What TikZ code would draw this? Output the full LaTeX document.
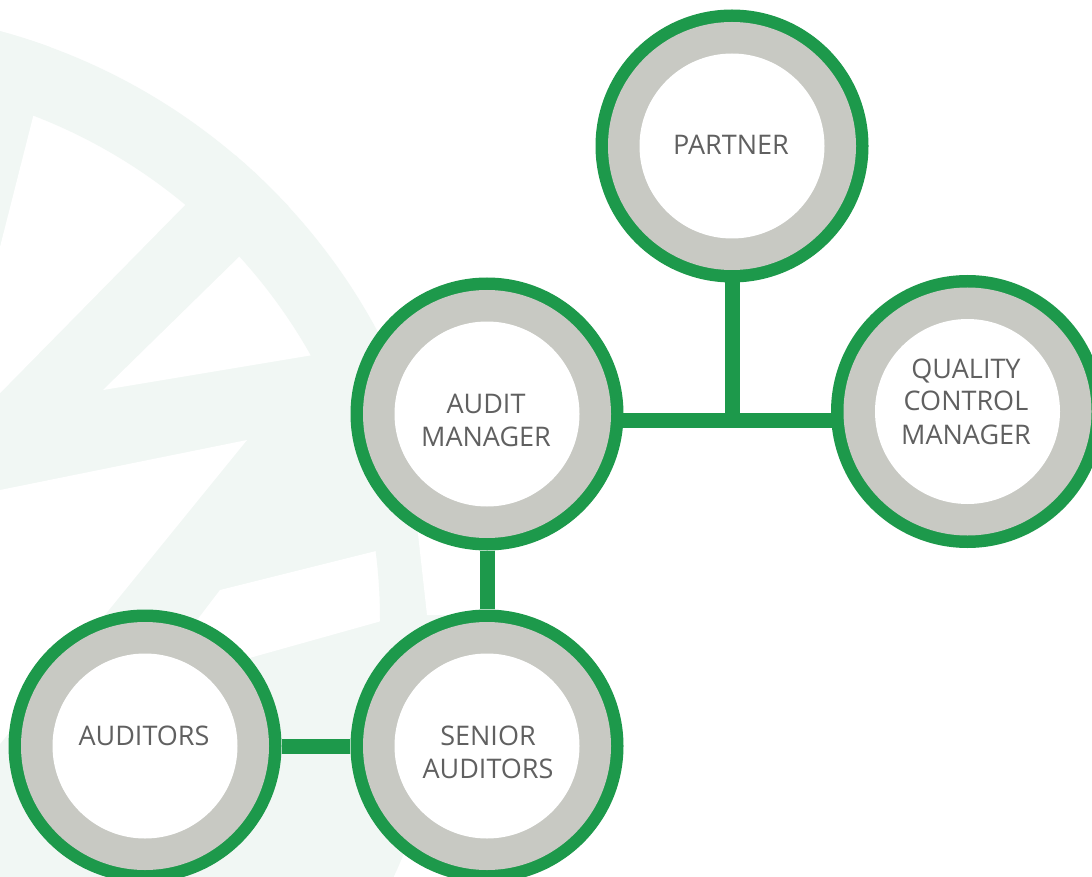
\documentclass[tikz,border=0pt]{standalone}
\usepackage{fontspec}
\setmainfont{Open Sans}
\definecolor{cgreen}{HTML}{1D994B}
\definecolor{cgray}{HTML}{C8C9C3}
\definecolor{ctext}{HTML}{606060}
\definecolor{wm}{HTML}{F1F7F4}
\pgfdeclarelayer{bg}
\pgfdeclarelayer{lines}
\pgfsetlayers{bg,lines,main}
\begin{document}
\begin{tikzpicture}[x=1pt,y=-1pt,
  ring/.style={circle, inner sep=0pt, minimum size=273pt, fill=cgreen,
    path picture={\fill[cgray] (path picture bounding box.center) circle (124pt);
                  \fill[white] (path picture bounding box.center) circle (92.5pt);}},
  lbl/.style={anchor=base, text=ctext, font=\fontsize{27}{33}\selectfont, inner sep=0pt},
  link/.style={draw=cgreen, line width=15pt}]
\useasboundingbox (0,0) rectangle (1092,877);
\clip (0,0) rectangle (1092,877);

% faint watermark
\begin{pgfonlayer}{bg}
\fill[white] (0,0) rectangle (1092,877);
\fill[wm] (-160,620) circle (610pt);
\fill[white] (-50,444) -- (116,-210) -- (424,-38) -- cycle;
\fill[white] (103,390) -- (383,116) -- (547,316) -- cycle;
\fill[white] (247,440) -- (-553,602) -- (-273,1080) -- cycle;
\fill[white] (220,590) -- (460,530) -- (460,599) -- (253,657) -- (146,687) -- cycle;
\fill[wm, even odd rule] (-160,620) circle (610pt) (-160,620) circle (540pt);
\fill[white] (417,525) -- (427,615) -- (520,615) -- (520,525) -- cycle;
\end{pgfonlayer}

% circles
\node[ring] (partner) at (732,146) {};
\node[ring] (am) at (487,414) {};
\node[ring] (qc) at (967.5,411.5) {};
\node[ring] (sen) at (487,746) {};
\node[ring] (aud) at (145,746) {};

% labels
\node[lbl] (tP) at (731,155) {PARTNER};
\node[lbl] (tA1) at (486,413) {AUDIT};
\node[lbl] (tA2) at (486,446) {MANAGER};
\node[lbl] (tQ1) at (966,378) {QUALITY};
\node[lbl] (tQ2) at (966,410.5) {CONTROL};
\node[lbl] (tQ3) at (966,444) {MANAGER};
\node[lbl] (tU) at (144,745) {AUDITORS};
\node[lbl] (tS1) at (488,745) {SENIOR};
\node[lbl] (tS2) at (488,778) {AUDITORS};

% connectors
\begin{pgfonlayer}{lines}
\coordinate (hl) at ([yshift=-6pt]am.center);
\draw[link] (hl) -- (hl -| qc.center);
\draw[link] (partner.center) -- (partner.center |- hl);
\draw[link] (am) -- (sen);
\draw[link] (aud) -- (sen);
\end{pgfonlayer}
\end{tikzpicture}
\end{document}
